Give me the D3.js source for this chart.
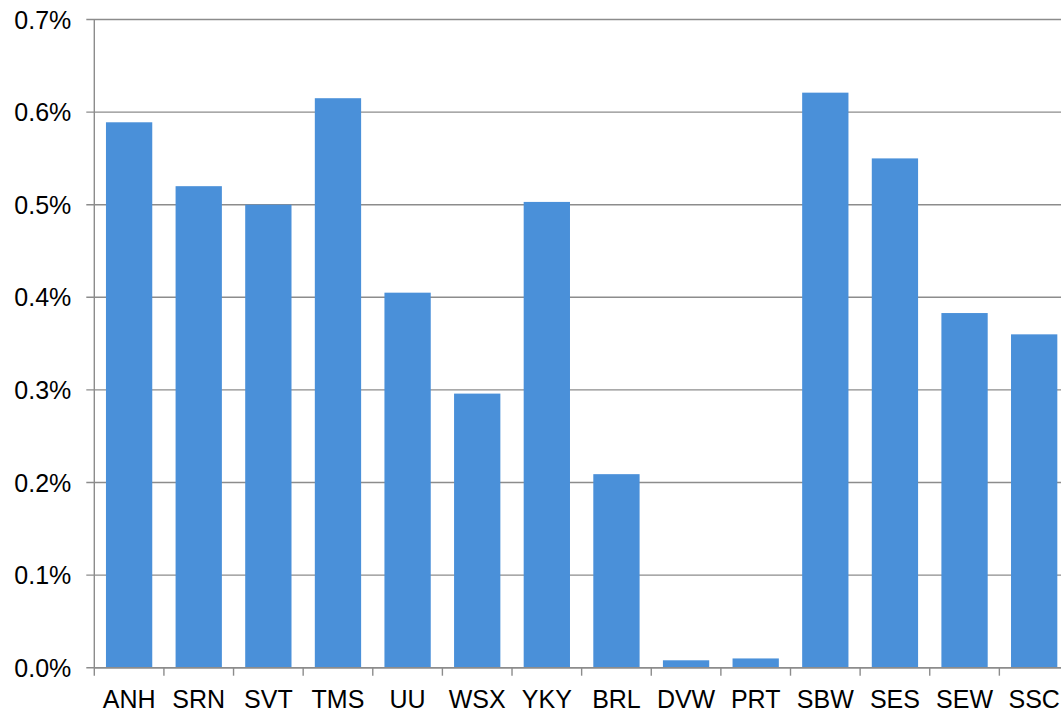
<!DOCTYPE html>
<html>
<head>
<meta charset="utf-8">
<script src="https://cdn.jsdelivr.net/npm/d3@7"></script>
<style>
  html, body { margin: 0; padding: 0; background: #fff; overflow: hidden; }
  text { font-family: "Liberation Sans", Arial, sans-serif; fill: #000; }
</style>
</head>
<body>
<div id="chart"></div>
<script>
// Chart data
const categories = ["ANH", "SRN", "SVT", "TMS", "UU", "WSX", "YKY", "BRL", "DVW", "PRT", "SBW", "SES", "SEW", "SSC"];
const values = [0.589, 0.520, 0.500, 0.615, 0.405, 0.296, 0.503, 0.209, 0.008, 0.010, 0.621, 0.550, 0.383, 0.360];
const yTicks = [0, 0.1, 0.2, 0.3, 0.4, 0.5, 0.6, 0.7];

const width = 1061, height = 713;
const margin = { top: 19.5, left: 94.3, bottom: 45.3 };
const innerHeight = height - margin.top - margin.bottom;
const innerWidth = 14 * 69.62;

const svg = d3.select("#chart")
    .append("svg")
    .attr("width", width)
    .attr("height", height);

const innerChart = svg.append("g")
    .attr("transform", `translate(${margin.left},${margin.top})`);

const xScale = d3.scaleBand()
    .domain(categories)
    .range([0, innerWidth])
    .paddingInner(0.335)
    .paddingOuter(0.1675);

const yScale = d3.scaleLinear()
    .domain([0, 0.7])
    .range([innerHeight, 0]);

// Gridlines
innerChart.selectAll("line.grid")
    .data(yTicks)
    .join("line")
    .attr("class", "grid")
    .attr("x1", -8)
    .attr("x2", innerWidth)
    .attr("y1", d => yScale(d))
    .attr("y2", d => yScale(d))
    .attr("stroke", "#8c8c8c")
    .attr("stroke-width", 1.4);

// Y labels
innerChart.selectAll("text.ylab")
    .data(yTicks)
    .join("text")
    .attr("class", "ylab")
    .attr("x", -23)
    .attr("y", d => yScale(d))
    .attr("dy", "0.36em")
    .attr("text-anchor", "end")
    .style("font-size", "25px")
    .text(d => d.toFixed(1) + "%");

// Bars
innerChart.selectAll("rect.bar")
    .data(values)
    .join("rect")
    .attr("class", "bar")
    .attr("x", (d, i) => xScale(categories[i]))
    .attr("y", d => yScale(d))
    .attr("width", xScale.bandwidth())
    .attr("height", d => innerHeight - yScale(d))
    .attr("fill", "#4a90d9");

// Y axis line
innerChart.append("line")
    .attr("x1", 0).attr("x2", 0)
    .attr("y1", 0).attr("y2", innerHeight)
    .attr("stroke", "#8c8c8c")
    .attr("stroke-width", 1.4);

// X axis line and ticks at band boundaries
innerChart.append("line")
    .attr("x1", 0).attr("x2", innerWidth)
    .attr("y1", innerHeight).attr("y2", innerHeight)
    .attr("stroke", "#8c8c8c")
    .attr("stroke-width", 1.4);

innerChart.selectAll("line.xtick")
    .data(d3.range(categories.length + 1))
    .join("line")
    .attr("class", "xtick")
    .attr("x1", i => i * xScale.step())
    .attr("x2", i => i * xScale.step())
    .attr("y1", innerHeight)
    .attr("y2", innerHeight + 8)
    .attr("stroke", "#8c8c8c")
    .attr("stroke-width", 1.4);

// X labels
innerChart.selectAll("text.xlab")
    .data(categories)
    .join("text")
    .attr("class", "xlab")
    .attr("x", d => xScale(d) + xScale.bandwidth() / 2)
    .attr("y", innerHeight + 40)
    .attr("text-anchor", "middle")
    .style("font-size", "25px")
    .text(d => d);
</script>
</body>
</html>
